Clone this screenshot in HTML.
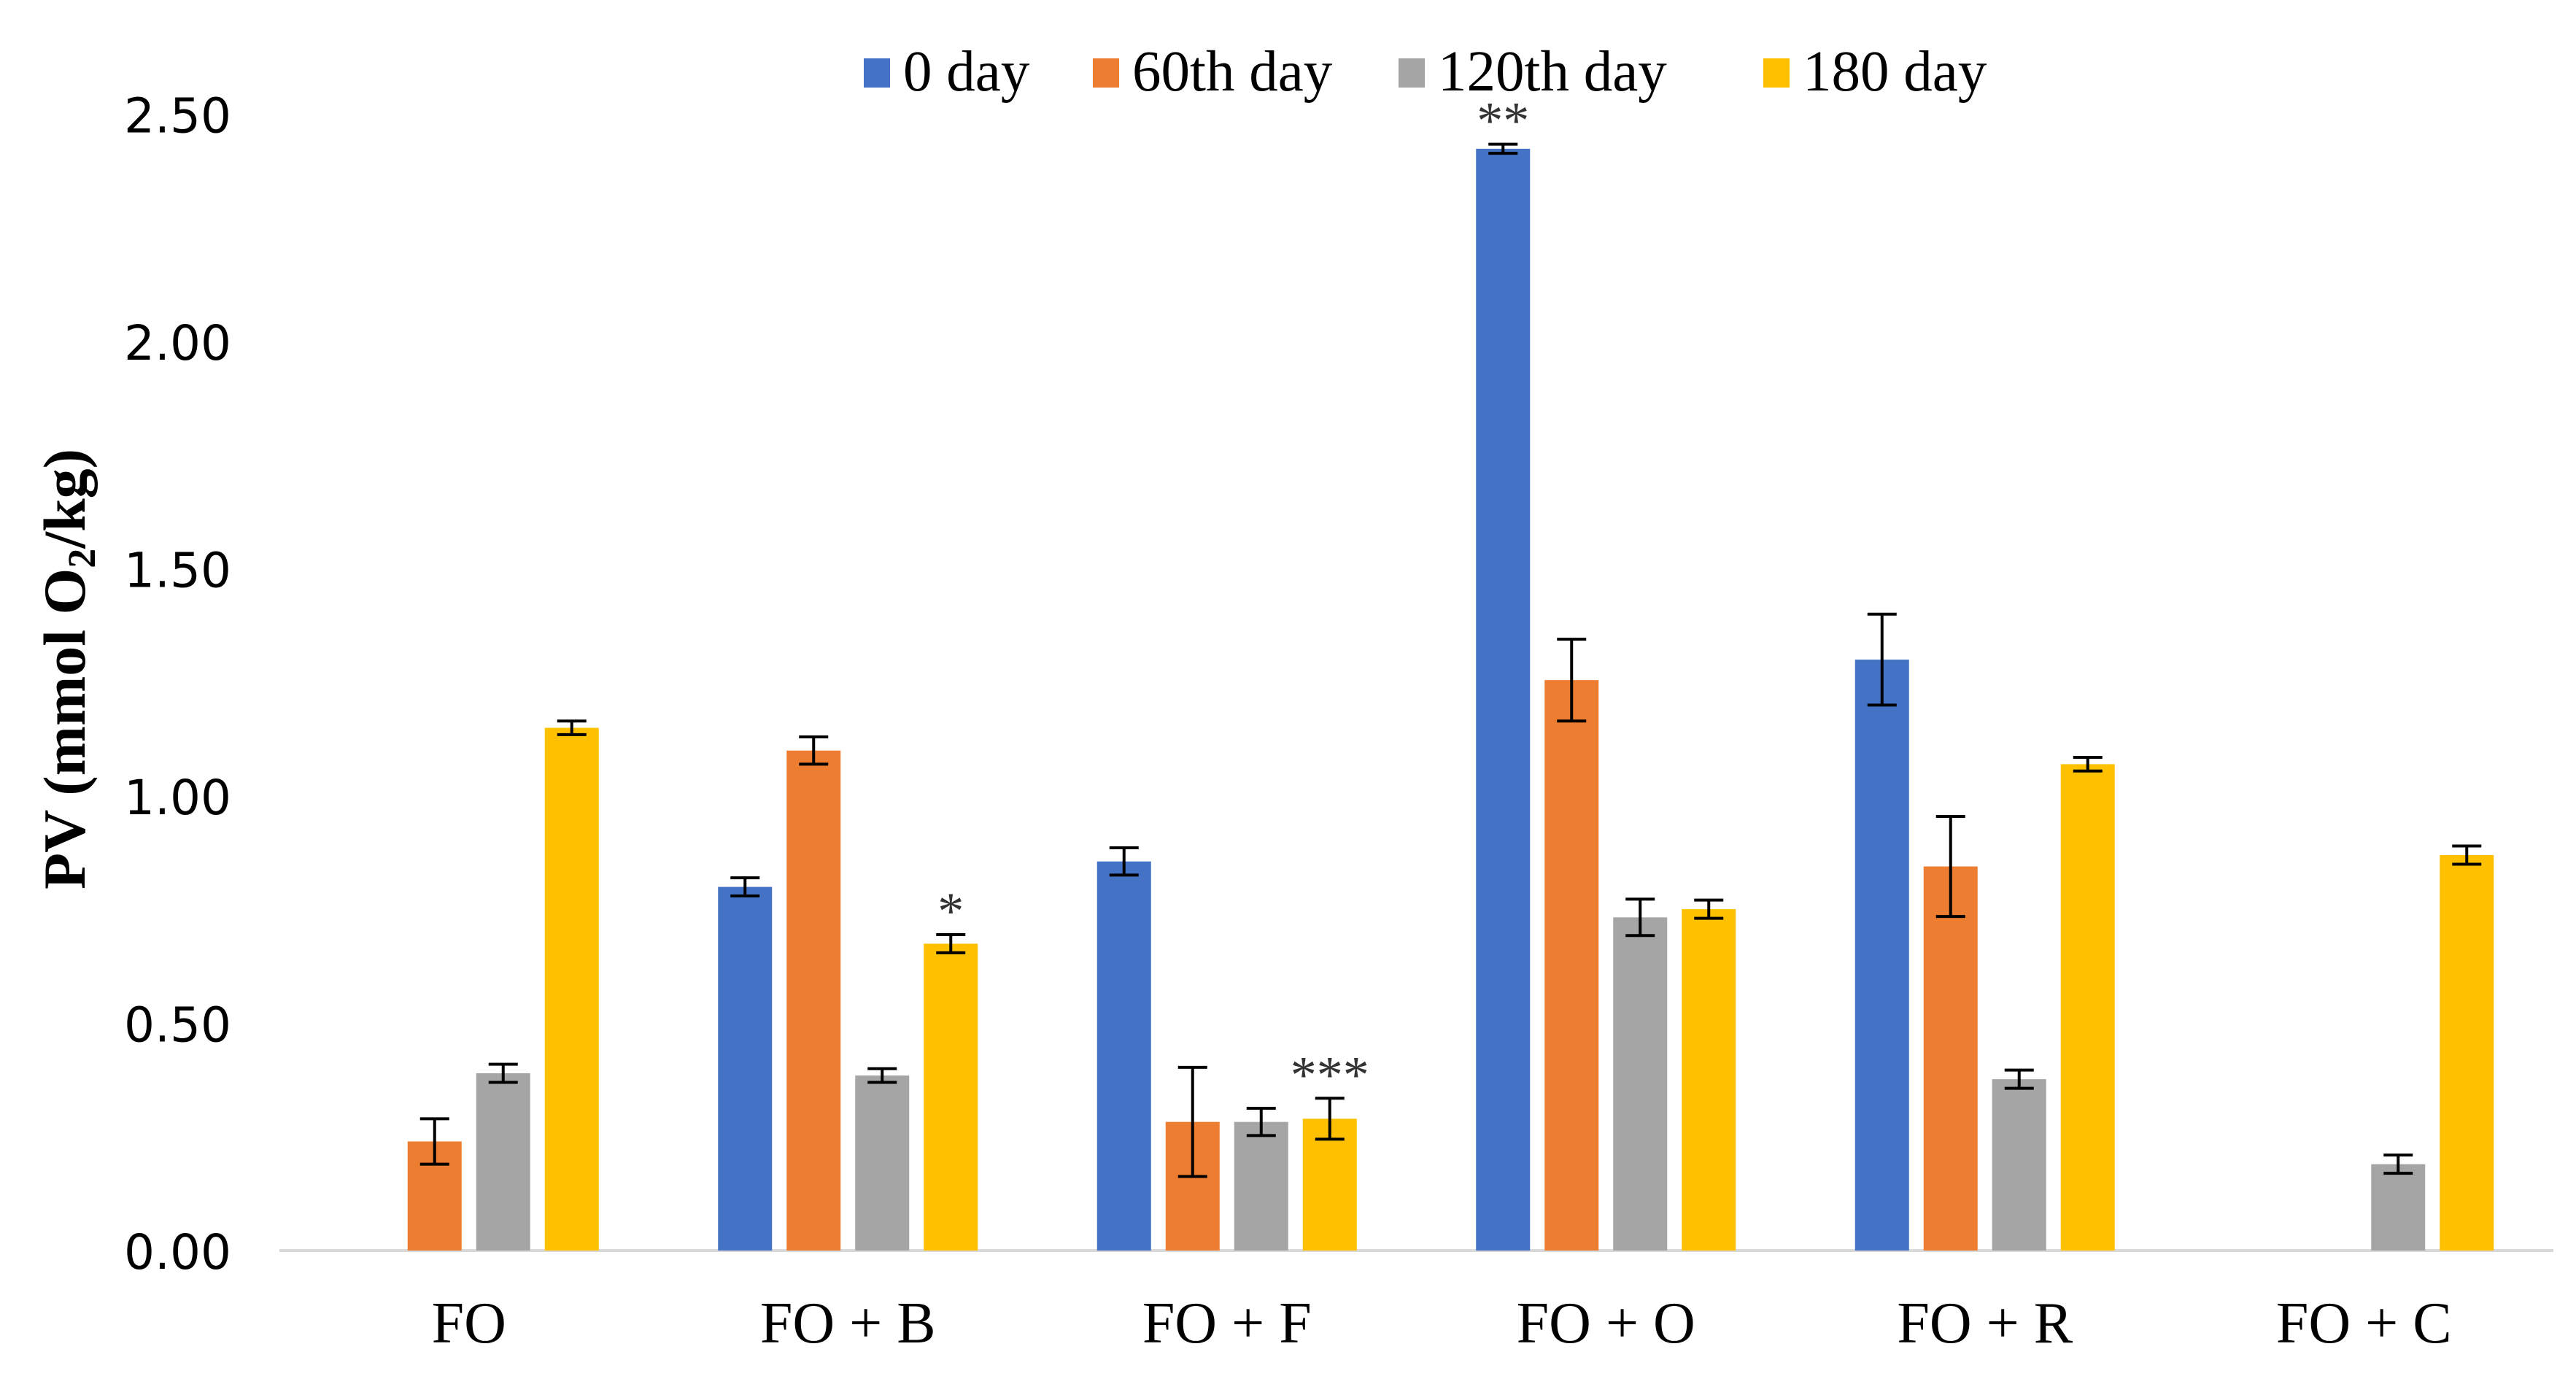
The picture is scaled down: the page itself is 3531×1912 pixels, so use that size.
<!DOCTYPE html>
<html><head><meta charset="utf-8">
<style>
html,body{margin:0;padding:0;background:#fff;}
svg{display:block;}
</style></head>
<body>
<svg id="chart" width="3531" height="1912" viewBox="0 0 3531 1912" xmlns="http://www.w3.org/2000/svg">
<rect x="0" y="0" width="3531" height="1912" fill="#fff"/>
<text x="0" y="0" transform="translate(116,917) rotate(-90)" text-anchor="middle" font-family="Liberation Serif, serif" font-weight="bold" font-size="82" fill="#000">PV (mmol O<tspan font-size="54" dy="14">2</tspan><tspan dy="-14">/kg)</tspan></text>
<g id="legend"></g>
<g id="yticks"></g>
<g id="bars"></g>
<g id="xlabels"></g>
</svg>
<script>
const categories = ["FO", "FO + B", "FO + F", "FO + O", "FO + R", "FO + C"];
const seriesNames = ["0 day", "60th day", "120th day", "180 day"];
const day0 = [0, 0.80, 0.856, 2.424, 1.30, 0];
const day60 = [0.24, 1.10, 0.283, 1.255, 0.845, 0];
const day120 = [0.39, 0.385, 0.283, 0.733, 0.377, 0.19];
const day180 = [1.15, 0.675, 0.29, 0.751, 1.07, 0.87];
const err0 = [0, 0.02, 0.03, 0.01, 0.10, 0];
const err60 = [0.05, 0.03, 0.12, 0.09, 0.11, 0];
const err120 = [0.02, 0.015, 0.03, 0.04, 0.02, 0.02];
const err180 = [0.015, 0.02, 0.045, 0.02, 0.015, 0.02];
const marks = [["", "", "", ""], ["", "", "", "*"], ["", "", "", "***"], ["**", "", "", ""], ["", "", "", ""], ["", "", "", ""]];
const yTicks = [0, 0.5, 1.0, 1.5, 2.0, 2.5];
const yTickLabels = ["0.00", "0.50", "1.00", "1.50", "2.00", "2.50"];

const colors = ["#4472C4", "#ED7D31", "#A5A5A5", "#FFC000"];
const NS = "http://www.w3.org/2000/svg";
const X0 = 383, X1 = 3500, Y0 = 1714, PX_PER_UNIT = 623;
function yScale(v){ return Y0 - v * PX_PER_UNIT; }
const groupW = (X1 - X0) / categories.length;
function xCenter(i){ return X0 + groupW * (i + 0.5); }
const barW = 74, barStep = 94;
function mk(tag, attrs, parent){ const e = document.createElementNS(NS, tag); for (const k in attrs) e.setAttribute(k, attrs[k]); parent.appendChild(e); return e; }

const yg = document.getElementById('yticks');
yTicks.forEach((t, i) => {
  const tx = mk('text', {x: 317, y: yScale(t) + 25, 'text-anchor': 'end', 'font-family': 'DejaVu Sans, sans-serif', 'font-size': 66, fill: '#000'}, yg);
  tx.textContent = yTickLabels[i];
  
  
});
const axis = mk('line', {x1: X0, x2: X1, y1: Y0, y2: Y0, stroke: '#d9d9d9', 'stroke-width': 4}, yg);



const series = [day0, day60, day120, day180];
const errs = [err0, err60, err120, err180];
const bg = document.getElementById('bars');
categories.forEach((c, i) => {
  series.forEach((s, j) => {
    const v = s[i];
    if (v <= 0) return;
    const cx = xCenter(i) + (j - 1.5) * barStep;
    const r = mk('rect', {x: cx - barW / 2, y: yScale(v), width: barW, height: Y0 - yScale(v), fill: colors[j]}, bg);
    
    
    const e = errs[j][i];
    if (e > 0) {
      const yt = yScale(v + e), yb = yScale(v - e);
      const eg = mk('g', {stroke: '#000', 'stroke-width': 4}, bg);
      
      
      mk('line', {x1: cx, x2: cx, y1: yt, y2: yb}, eg);
      mk('line', {x1: cx - 20, x2: cx + 20, y1: yt, y2: yt}, eg);
      mk('line', {x1: cx - 20, x2: cx + 20, y1: yb, y2: yb}, eg);
    }
    const m = marks[i][j];
    if (m) {
      const t = mk('text', {x: cx, y: yScale(v + e) - 8, 'text-anchor': 'middle', 'font-family': 'Liberation Serif, serif', 'font-size': 72, fill: '#333'}, bg);
      t.textContent = m;
      
      
    }
  });
});

const xg = document.getElementById('xlabels');
categories.forEach((c, i) => {
  const t = mk('text', {x: xCenter(i), y: 1840, 'text-anchor': 'middle', 'font-family': 'Liberation Serif, serif', 'font-size': 80, fill: '#000'}, xg);
  t.textContent = c;
  
  
});

const lg = document.getElementById('legend');
const legX = [1184, 1498, 1917, 2417];
seriesNames.forEach((n, j) => {
  const g = mk('g', {}, lg);
  
  
  mk('rect', {x: legX[j], y: 80, width: 36, height: 40, fill: colors[j]}, g);
  const t = mk('text', {x: legX[j] + 54, y: 124, 'font-family': 'Liberation Serif, serif', 'font-size': 79, fill: '#000'}, g);
  t.textContent = n;
});
</script>
</body></html>
